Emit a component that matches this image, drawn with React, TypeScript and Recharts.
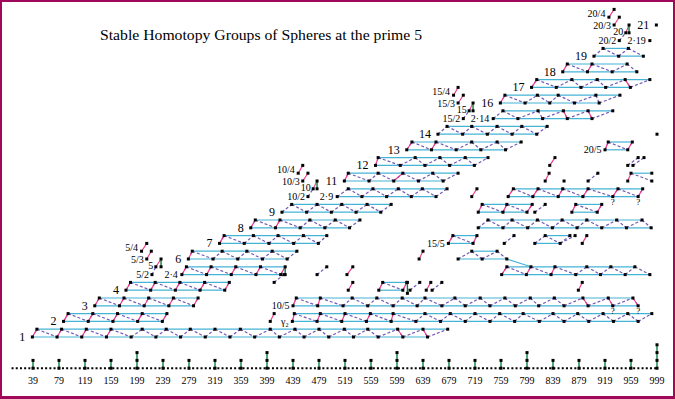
import React from 'react';
import { ComposedChart, XAxis, YAxis, Scatter, ReferenceLine } from 'recharts';

// ---------- axis domains (stem on x, Adams filtration on y) ----------
const X0 = -11.77;
const X1 = 1026.69;
const Y0 = -2.2308;
const Y1 = 45.2051;

// ---------- bottom axis ----------
const tickStems = [39, 79, 119, 159, 199, 239, 279, 319, 359, 399, 439, 479, 519, 559, 599, 639, 679, 719, 759, 799, 839, 879, 919, 959, 999];
const jOrders = [1, 1, 1, 1, 2, 1, 1, 1, 1, 2, 1, 1, 1, 1, 2, 1, 1, 1, 1, 2, 1, 1, 1, 1, 3];

// ---------- main staircase (bottom filtration v, bottom stems, top stems, alpha1 links) ----------
const r1Bot = [38, 76, 114, 152, 190, 228, 266, 304, 342, 380, 418, 456, 494, 532, 570, 608, 646];
const r1Top = [45, 83, 121, 159, 207, 244, 281, 319, 358, 404, 442, 479, 518, 554, 600, 639, 677];
const r1Pink = [[38, 45], [76, 83], [114, 121], [152, 159], [608, 600], [646, 639]];
const r2Bot = [86, 124, 162, 200, 238];
const r2Top = [93, 131, 169, 207, 245];
const r3Bot = [134, 172, 210, 248, 286];
const r3Top = [141, 179, 217, 255, 293];
const r4Bot = [182, 220, 258, 296, 334];
const r4Top = [189, 227, 265, 303, 341];
const r24Bot = [268, 306, 344, 382, 420];
const r24Top = [275, 313, 351, 389, 427];
const r6Bot = [278, 316, 354, 392, 430];
const r6Top = [284, 330, 368, 407, 445];
const r7Bot = [326, 364, 402, 440, 478];
const r7Top = [333, 378, 416, 455, 491];
const r8Bot = [374, 412, 450, 488, 526];
const r8Top = [381, 419, 465, 504, 542];
const r9Bot = [422, 460, 498, 536, 574];
const r9Top = [437, 476, 514, 553, 590];
const r29Bot = [507, 545, 583, 621, 659];
const r29Top = [524, 562, 601, 638, 676];
const r11Bot = [518, 556, 594, 632, 670];
const r11Top = [524, 570, 608, 654, 693];
const r12Bot = [566, 604, 642, 680, 718];
const r12Top = [570, 627, 665, 704, 739];
const r13Bot = [614, 652, 690, 728, 766];
const r13Top = [622, 659, 714, 753, 790];
const r14Bot = [662, 700, 738, 776, 814];
const r14Top = [676, 714, 753, 791, 830];
const r214Bot = [747, 785, 823, 861, 899];
const r214Top = [762, 816, 855, 893, 931];
const r16Bot = [758, 796, 834, 872, 910];
const r16Top = [765, 815, 847, 905, 942];
const r17Bot = [806, 844, 882, 920, 958];
const r17Top = [814, 868, 907, 950, 988];
const r18Bot = [854, 892, 930, 968];
const r18Top = [861, 899, 953];
const r19Bot = [902, 940, 978];
const r19Top = [916, 955];

// ---------- secondary families ----------
const g2Bot = [438, 476, 514, 552, 590, 628, 666, 704, 742, 780, 818, 856, 894, 932, 970];
const g2Top = [441, 481, 519, 558, 593, 642, 681, 719, 757, 793, 839, 877, 916, 954, 991];
const b105Bot = [439, 477, 516, 554, 593, 630, 668, 704, 742, 781, 817, 856, 893, 931, 970];
const b105Top = [444, 481, 530, 568, 607, 642, 688, 727, 765, 804, 841, 885, 924, 962];
const s8Bot = [571, 608];
const s8Top = [577, 614];
const l10Bot = [760, 798, 836, 874, 912, 950, 988];
const l10Top = [768, 805, 842, 891, 928, 965];
const l12Bot = [693, 730, 768];
const l12Top = [714, 753];
const b155Bot = [678, 716];
const b155Top = [685, 722];
const l14Bot = [811, 850];
const l14Top = [827, 865];
const l16Bot = [724, 762, 800, 838, 876, 914, 952, 990];
const l16Top = [739, 776, 815, 853, 891, 937, 976];
const l18Bot = [724, 762, 799];
const l18Top = [730, 768, 807];
const l18bBot = [868, 907];
const l18bTop = [874, 914];
const l20Bot = [770, 808, 847, 885, 931, 970];
const l20Top = [778, 816, 854, 893, 939, 977];
const b205Bot = [919, 954];
const b205Top = [924, 961];

// isolated pieces [stem1, filt1, stem2, filt2]
const extraPinks = [
  [206, 13, 214, 14], [214, 12, 221, 13], [228, 11, 236, 12],
  [447, 23, 454, 24], [454, 22, 462, 23], [470, 21, 476, 22],
  [686, 33, 693, 34], [693, 32, 701, 33], [710, 31, 716, 32],
  [925, 43, 933, 44], [933, 42, 941, 43], [951, 41, 956, 42],
  [404, 4, 410, 5], [522, 10, 531, 11], [524, 8, 531, 9], [644, 8, 651, 9], [633, 12, 639, 13],
  [878, 8, 884, 9], [884, 14, 891, 15], [714, 20, 722, 21], [827, 22, 833, 23], [954, 22, 959, 23],
  [834, 24, 842, 25],
];
const extraDashes = [
  [222, 10, 228, 11], [462, 20, 470, 21], [701, 30, 710, 31], [941, 40, 951, 41],
  [410, 9, 425, 10], [476, 10, 491, 11], [619, 8, 634, 9], [653, 8, 668, 9],
  [764, 14, 779, 15], [850, 14, 873, 15], [811, 18, 827, 19], [893, 22, 908, 23], [959, 23, 991, 22],
  [954, 24, 970, 25], [962, 24, 979, 25],
];
const extraGreens = [[236, 11, 236, 12], [476, 21, 476, 22], [716, 31, 716, 32], [956, 41, 956, 42], [427, 10, 427, 11], [615, 9, 615, 7.6]];
const extraCyans = [[768, 12, 805, 11], [959, 23, 991, 23]];
const extraDots = [[856, 22], [988, 40], [998, 42], [999, 28]];

// ---------- labels (anchored on the first dot of their element) ----------
const rowLabels = [
  ['1', 38, 2], ['2', 86, 4], ['3', 134, 6], ['4', 182, 8], ['6', 278, 12], ['7', 326, 14], ['8', 374, 16],
  ['9', 422, 18], ['11', 518, 22], ['12', 566, 24], ['13', 614, 26], ['14', 662, 28], ['16', 758, 32],
  ['17', 806, 34], ['18', 854, 36], ['19', 902, 38], ['21', 998, 42],
];
const productLabels = [['2·4', 268, 10], ['2·9', 507, 20], ['2·14', 747, 30], ['2·19', 988, 40]];
const famLabels4 = [['5/4', 206, 13], ['10/4', 447, 23], ['15/4', 686, 33], ['20/4', 925, 43]];
const famLabels3 = [['5/3', 214, 12], ['10/3', 454, 22], ['15/3', 693, 32], ['20/3', 933, 42]];
const famLabels1 = [['5', 228, 11], ['10', 470, 21], ['15', 710, 31], ['20', 951, 41]];
const famLabels2 = [['5/2', 222, 10], ['10/2', 462, 20], ['15/2', 701, 30], ['20/2', 941, 40]];
const famLabels5 = [['10/5', 439, 6], ['γ₂', 438, 4], ['15/5', 678, 14], ['20/5', 919, 26]];
const qMarks = [[931, 6], [970, 6], [931, 20], [970, 20]];

const CYAN = '#45b3d6';
const PURPLE = '#7458b8';
const PINK = '#f0328a';
const GREEN = '#0a7d3e';
const FRAME = '#a0085c';
const SERIF = '"Liberation Serif", "DejaVu Serif", serif';

type Rib = { v: number; bot: number[]; top: number[]; pinks: number[][] };
const allPinks = (b: number[], t: number[]) => b.map((s, i) => [s, t[i]]).filter((p) => p[1] !== undefined);

const ribbons: Rib[] = [
  { v: 2, bot: r1Bot, top: r1Top, pinks: r1Pink },
  { v: 4, bot: r2Bot, top: r2Top, pinks: allPinks(r2Bot, r2Top) },
  { v: 6, bot: r3Bot, top: r3Top, pinks: allPinks(r3Bot, r3Top) },
  { v: 8, bot: r4Bot, top: r4Top, pinks: allPinks(r4Bot, r4Top) },
  { v: 10, bot: r24Bot, top: r24Top, pinks: allPinks(r24Bot, r24Top) },
  { v: 12, bot: r6Bot, top: r6Top, pinks: [[278, 284]] },
  { v: 14, bot: r7Bot, top: r7Top, pinks: [[326, 333]] },
  { v: 16, bot: r8Bot, top: r8Top, pinks: [[374, 381], [412, 419]] },
  { v: 18, bot: r9Bot, top: r9Top, pinks: [] },
  { v: 20, bot: r29Bot, top: r29Top, pinks: [] },
  { v: 22, bot: r11Bot, top: r11Top, pinks: [[518, 524], [594, 608]] },
  { v: 24, bot: r12Bot, top: r12Top, pinks: [[566, 570]] },
  { v: 26, bot: r13Bot, top: r13Top, pinks: [[614, 622], [652, 659]] },
  { v: 28, bot: r14Bot, top: r14Top, pinks: [] },
  { v: 30, bot: r214Bot, top: r214Top, pinks: [[861, 855], [899, 893]] },
  { v: 32, bot: r16Bot, top: r16Top, pinks: [[758, 765]] },
  { v: 34, bot: r17Bot, top: r17Top, pinks: [[806, 814], [958, 950]] },
  { v: 36, bot: r18Bot, top: r18Top, pinks: [[854, 861], [892, 899]] },
  { v: 38, bot: r19Bot, top: r19Top, pinks: [] },
  { v: 4, bot: g2Bot, top: g2Top, pinks: [[438, 441], [476, 481], [514, 519], [552, 558], [590, 593]] },
  { v: 6, bot: b105Bot, top: b105Top, pinks: [[439, 444], [477, 481], [893, 885], [931, 924], [970, 962]] },
  { v: 8, bot: s8Bot, top: s8Top, pinks: allPinks(s8Bot, s8Top) },
  { v: 10, bot: l10Bot, top: l10Top, pinks: [[760, 768], [798, 805], [836, 842]] },
  { v: 12, bot: l12Bot, top: l12Top, pinks: [] },
  { v: 14, bot: b155Bot, top: b155Top, pinks: allPinks(b155Bot, b155Top) },
  { v: 14, bot: l14Bot, top: l14Top, pinks: [] },
  { v: 16, bot: l16Bot, top: l16Top, pinks: [] },
  { v: 18, bot: l18Bot, top: l18Top, pinks: allPinks(l18Bot, l18Top) },
  { v: 18, bot: l18bBot, top: l18bTop, pinks: allPinks(l18bBot, l18bTop) },
  { v: 20, bot: l20Bot, top: l20Top, pinks: allPinks(l20Bot, l20Top) },
  { v: 26, bot: b205Bot, top: b205Top, pinks: allPinks(b205Bot, b205Top) },
];

// ---------- build drawing lists from the data ----------
const cyanSegs: number[][] = [...extraCyans];
const dashSegs: number[][] = [...extraDashes];
const pinkSegs: number[][] = [...extraPinks];
const greenSegs: number[][] = [...extraGreens];
const dotMap = new Map<string, { x: number; y: number }>();
const addDot = (x: number, y: number) => dotMap.set(x + ':' + y, { x, y });

ribbons.forEach((r) => {
  if (r.bot.length > 1) cyanSegs.push([Math.min(...r.bot), r.v, Math.max(...r.bot), r.v]);
  if (r.top.length > 1) cyanSegs.push([Math.min(...r.top), r.v + 1, Math.max(...r.top), r.v + 1]);
  const pts = [...r.bot.map((s) => [s, r.v]), ...r.top.map((s) => [s, r.v + 1])].sort((a, b) => a[0] - b[0]);
  for (let i = 0; i + 1 < pts.length; i++) {
    if (pts[i][1] !== pts[i + 1][1]) dashSegs.push([pts[i][0], pts[i][1], pts[i + 1][0], pts[i + 1][1]]);
  }
  r.pinks.forEach(([b, t]) => pinkSegs.push([b, r.v, t, r.v + 1]));
  pts.forEach((p) => addDot(p[0], p[1]));
});
[...extraPinks, ...extraDashes, ...extraGreens, ...extraCyans].forEach((s) => {
  addDot(s[0], s[1]);
  addDot(s[2], s[3]);
});
extraDots.forEach((d) => addDot(d[0], d[1]));
tickStems.forEach((s, i) => {
  addDot(s, -2);
  for (let k = 1; k <= jOrders[i]; k++) addDot(s, -2 + k);
  greenSegs.push([s, -2, s, -2 + jOrders[i]]);
});
const dots = Array.from(dotMap.values());

const toData = (arr: any[]) => arr.map(([t, x, y]) => ({ x, y, text: t }));
const qData = qMarks.map(([x, y]) => ({ x, y, text: '?' }));

const seg = (s: number[], key: string, stroke: string, w: number, dash?: string) => (
  <ReferenceLine
    key={key}
    segment={[{ x: s[0], y: s[1] }, { x: s[2], y: s[3] }]}
    stroke={stroke}
    strokeWidth={w}
    strokeDasharray={dash}
    ifOverflow="visible"
  />
);

const DotShape = (p: any) => <rect x={p.cx - 1.5} y={p.cy - 1.5} width={3} height={3} fill="#000" />;
const txt = (p: any) => (p.payload && p.payload.text) || p.text;
const makeLabel = (dx: number, dy: number, size: number) => (p: any) => (
  <text x={p.cx + dx} y={p.cy + dy} textAnchor="end" fontSize={size} fontFamily={SERIF} fill="#000">
    {txt(p)}
  </text>
);
const RowLabel = makeLabel(-7, 4, 12);
const ProductLabel = makeLabel(-4, 3.5, 10);
const Fam4Label = makeLabel(-3.5, 0, 10);
const Fam3Label = makeLabel(-3, 4, 10);
const Fam1Label = makeLabel(-2.5, 2, 10);
const Fam2Label = makeLabel(-3, 3, 10);
const Fam5Label = makeLabel(-3.5, 3.5, 10);
const QLabel = (p: any) => (
  <text x={p.cx} y={p.cy + 8} textAnchor="middle" fontSize={9} fontFamily={SERIF} fill="#000">
    {txt(p)}
  </text>
);
const Tick = (p: any) => (
  <text x={p.x} y={p.y + 13.5} textAnchor="middle" fontSize={10} fontFamily={SERIF} fill="#000">
    {p.payload.value}
  </text>
);

export default function App() {
  return (
    <div style={{ position: 'absolute', left: 0, top: 0, width: 675, height: 399, background: '#fff' }}>
      <ComposedChart width={675} height={399} margin={{ top: 0, right: 0, bottom: 0, left: 0 }}>
        <XAxis
          type="number"
          dataKey="x"
          domain={[X0, X1]}
          allowDataOverflow
          ticks={tickStems}
          interval={0}
          height={29}
          axisLine={false}
          tickLine={false}
          tickSize={0}
          tickMargin={0}
          tick={Tick}
        />
        <YAxis type="number" dataKey="y" domain={[Y0, Y1]} allowDataOverflow hide />
        {seg([6, -2, 999, -2], 'axis', '#000', 2, '2 2.2')}
        {cyanSegs.map((s, i) => seg(s, 'c' + i, CYAN, 1.2))}
        {dashSegs.map((s, i) => seg(s, 'd' + i, PURPLE, 1.2, '3 2'))}
        {pinkSegs.map((s, i) => seg(s, 'p' + i, PINK, 1.1))}
        {greenSegs.map((s, i) => seg(s, 'g' + i, GREEN, 1.4))}
        <Scatter data={dots} shape={DotShape} isAnimationActive={false} />
        <Scatter data={toData(rowLabels)} shape={RowLabel} isAnimationActive={false} />
        <Scatter data={toData(productLabels)} shape={ProductLabel} isAnimationActive={false} />
        <Scatter data={toData(famLabels4)} shape={Fam4Label} isAnimationActive={false} />
        <Scatter data={toData(famLabels3)} shape={Fam3Label} isAnimationActive={false} />
        <Scatter data={toData(famLabels1)} shape={Fam1Label} isAnimationActive={false} />
        <Scatter data={toData(famLabels2)} shape={Fam2Label} isAnimationActive={false} />
        <Scatter data={toData(famLabels5)} shape={Fam5Label} isAnimationActive={false} />
        <Scatter data={qData} shape={QLabel} isAnimationActive={false} />
      </ComposedChart>
      <svg width={675} height={60} style={{ position: 'absolute', left: 0, top: 0, pointerEvents: 'none' }}>
        <text x={100} y={39.5} fontSize={14} fontFamily={SERIF} textLength={322} lengthAdjust="spacingAndGlyphs" fill="#000">
          Stable Homotopy Groups of Spheres at the prime 5
        </text>
      </svg>
      <div
        style={{
          position: 'absolute',
          left: 0,
          top: 0,
          width: 675,
          height: 399,
          boxSizing: 'border-box',
          borderStyle: 'solid',
          borderColor: FRAME,
          borderWidth: '2px 2px 3px 2px',
          pointerEvents: 'none',
        }}
      />
    </div>
  );
}
